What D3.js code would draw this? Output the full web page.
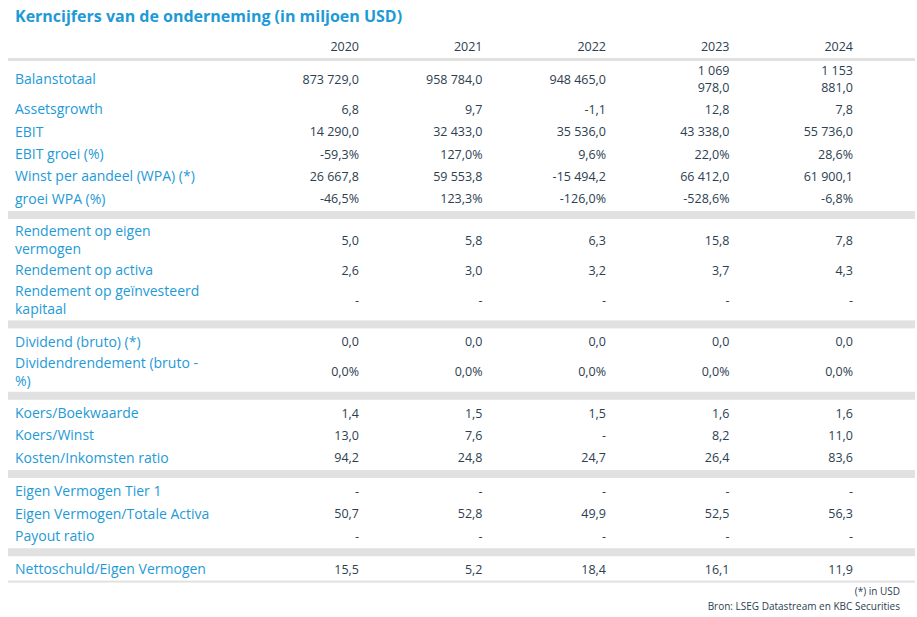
<!DOCTYPE html>
<html><head><meta charset="utf-8">
<script src="https://cdn.jsdelivr.net/npm/d3@7"></script>
<style>body{margin:0;background:#fff}text{font-family:"Open Sans","Noto Sans",sans-serif}</style>
</head><body><div id="chart"></div>
<script>
const title = "Kerncijfers van de onderneming (in miljoen USD)";
const years = ["2020", "2021", "2022", "2023", "2024"];
const groups = [
  [
    ["Balanstotaal", ["873 729,0", "958 784,0", "948 465,0", "1 069\n978,0", "1 153\n881,0"]],
    ["Assetsgrowth", ["6,8", "9,7", "-1,1", "12,8", "7,8"]],
    ["EBIT", ["14 290,0", "32 433,0", "35 536,0", "43 338,0", "55 736,0"]],
    ["EBIT groei (%)", ["-59,3%", "127,0%", "9,6%", "22,0%", "28,6%"]],
    ["Winst per aandeel (WPA) (*)", ["26 667,8", "59 553,8", "-15 494,2", "66 412,0", "61 900,1"]],
    ["groei WPA (%)", ["-46,5%", "123,3%", "-126,0%", "-528,6%", "-6,8%"]]
  ],
  [
    ["Rendement op eigen\nvermogen", ["5,0", "5,8", "6,3", "15,8", "7,8"]],
    ["Rendement op activa", ["2,6", "3,0", "3,2", "3,7", "4,3"]],
    ["Rendement op geïnvesteerd\nkapitaal", ["-", "-", "-", "-", "-"]]
  ],
  [
    ["Dividend (bruto) (*)", ["0,0", "0,0", "0,0", "0,0", "0,0"]],
    ["Dividendrendement (bruto -\n%)", ["0,0%", "0,0%", "0,0%", "0,0%", "0,0%"]]
  ],
  [
    ["Koers/Boekwaarde", ["1,4", "1,5", "1,5", "1,6", "1,6"]],
    ["Koers/Winst", ["13,0", "7,6", "-", "8,2", "11,0"]],
    ["Kosten/Inkomsten ratio", ["94,2", "24,8", "24,7", "26,4", "83,6"]]
  ],
  [
    ["Eigen Vermogen Tier 1", ["-", "-", "-", "-", "-"]],
    ["Eigen Vermogen/Totale Activa", ["50,7", "52,8", "49,9", "52,5", "56,3"]],
    ["Payout ratio", ["-", "-", "-", "-", "-"]]
  ],
  [
    ["Nettoschuld/Eigen Vermogen", ["15,5", "5,2", "18,4", "16,1", "11,9"]]
  ]
];
const notes = ["(*) in USD", "Bron: LSEG Datastream en KBC Securities"];

const W = 917, H = 617;
const blue = "#1e9ad6", dark = "#2c3e50", grey = "#e1e1e1";
const svg = d3.select("#chart").append("svg").attr("width", W).attr("height", H);

const x = d3.scalePoint().domain(years).range([359, 853]);

svg.append("text").attr("x", 15).attr("y", 22).attr("fill", blue)
  .attr("font-size", 16).attr("font-weight", "bold").text(title);

svg.selectAll(".yr").data(years).join("text")
  .attr("x", d => x(d)).attr("y", 51).attr("text-anchor", "end")
  .attr("fill", dark).attr("font-size", 12.5).text(d => d);

svg.append("rect").attr("x", 8).attr("y", 58).attr("width", W - 10).attr("height", 3).attr("fill", grey);

const lineH = 18, rowH = 22.4, tallH = 38;
let y = 60;
groups.forEach((g, gi) => {
  g.forEach(([label, vals]) => {
    const lines = label.split("\n");
    const multi = lines.length > 1 || vals.some(v => v.includes("\n"));
    const h = multi ? tallH : rowH;
    const cy = y + h / 2;
    const row = svg.append("g");
    const lt = row.append("text").attr("x", 15).attr("fill", blue).attr("font-size", 14);
    lines.forEach((l, i) => lt.append("tspan").attr("x", 15)
      .attr("y", cy + 5 + (i - (lines.length - 1) / 2) * lineH).text(l));
    vals.forEach((v, j) => {
      const vl = v.split("\n");
      const t = row.append("text").attr("text-anchor", "end").attr("fill", dark).attr("font-size", 12.5);
      vl.forEach((l, i) => t.append("tspan").attr("x", x(years[j]))
        .attr("y", cy + 4.5 + (i - (vl.length - 1) / 2) * 17).text(l));
    });
    y += h;
  });
  if (gi < groups.length - 1) {
    svg.append("rect").attr("x", 8).attr("y", y + 1).attr("width", W - 10).attr("height", 8).attr("fill", grey);
    y += 11;
  }
});

svg.append("rect").attr("x", 8).attr("y", y).attr("width", W - 10).attr("height", 2).attr("fill", grey);

svg.selectAll(".note").data(notes).join("text")
  .attr("x", 900).attr("y", (d, i) => y + 14 + i * 15).attr("text-anchor", "end")
  .attr("fill", dark).attr("font-size", 10).text(d => d);
</script></body></html>
